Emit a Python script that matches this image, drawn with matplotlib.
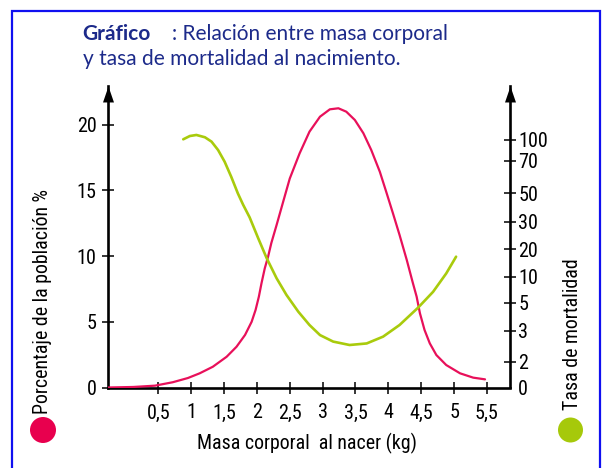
import numpy as np
import matplotlib
matplotlib.use("Agg")
import matplotlib.pyplot as plt
from matplotlib.patches import Rectangle, Ellipse
from matplotlib.scale import FuncScale

plt.rcParams['font.family'] = ['Noto Sans Condensed', 'Liberation Sans Narrow', 'Roboto Condensed', 'DejaVu Sans']
plt.rcParams['font.stretch'] = 'condensed'

# ---- data ----
x_ticks = [0.5, 1, 1.5, 2, 2.5, 3, 3.5, 4, 4.5, 5, 5.5]
x_tick_labels = ["0,5", "1", "1,5", "2", "2,5", "3", "3,5", "4", "4,5", "5", "5,5"]
pct_ticks = [0, 5, 10, 15, 20]
mort_ticks = [0, 2, 3, 5, 10, 20, 30, 50, 70, 100]
# position of each mortality tick on the (population %) axis scale
mort_tick_pos = [0, 1.96, 4.32, 6.45, 8.43, 10.52, 12.62, 14.78, 17.24, 18.84]

mass_pop = [-0.26, 0.12, 0.45, 0.72, 0.95, 1.13, 1.33, 1.54, 1.69, 1.82, 1.92, 1.98,
            2.03, 2.07, 2.12, 2.17, 2.22, 2.30, 2.40, 2.50, 2.65, 2.80, 2.96, 3.11,
            3.24, 3.36, 3.49, 3.62, 3.74, 3.87, 3.97, 4.07, 4.17, 4.28, 4.37, 4.43,
            4.48, 4.55, 4.63, 4.73, 4.88, 5.09, 5.29, 5.47]
pop_pct = [0.0, 0.04, 0.14, 0.40, 0.72, 1.08, 1.58, 2.34, 3.10, 4.0, 5.0, 5.9,
           6.91, 7.93, 9.07, 9.95, 11.0, 12.37, 14.14, 15.9, 17.82, 19.47, 20.61, 21.17,
           21.25, 20.99, 20.36, 19.35, 18.07, 16.42, 14.85, 13.25, 11.61, 9.7, 8.0, 6.91,
           5.65, 4.38, 3.36, 2.47, 1.71, 1.08, 0.75, 0.62]

mass_mort = [0.88, 0.98, 1.08, 1.21, 1.31, 1.41, 1.51, 1.61, 1.71, 1.79, 1.89, 2.02, 2.15,
             2.30, 2.45, 2.63, 2.80, 2.96, 3.16, 3.41, 3.67, 3.92, 4.17, 4.45, 4.68,
             4.88, 5.03]
mortality = [100.9, 105.6, 107.1, 103.8, 97.6, 85.6, 69.5, 60.2, 50.0, 42.0, 33.0, 24.0, 16.7,
             9.7, 6.5, 4.36, 3.41, 2.86, 2.65, 2.54, 2.59, 2.81, 3.41, 4.64, 7.1,
             11.2, 17.3]

PINK = "#e8105a"
GREEN = "#a9cb0c"
NAVY = "#1c2a8a"

W, H = 609, 468
fig = plt.figure(figsize=(W / 100, H / 100), dpi=100)

def fx(px):
    return px / W

def fy(py):
    return 1 - py / H

# frame
fig.patches.append(Rectangle((fx(11.7), fy(520)), fx(600) - fx(11.7), fy(11.5) - fy(520),
                             transform=fig.transFigure, fill=False, edgecolor="#1010f0",
                             linewidth=1.6, clip_on=False))

ax = fig.add_axes([fx(108.3), fy(387.5), fx(510) - fx(108.3), fy(86) - fy(387.5)])
ax.patch.set_alpha(0)
ylim_top = (387.5 - 86) / 13.14
ax.set_xlim(-0.26, 5.85)
ax.set_ylim(0, ylim_top)

for s in ["top", "right"]:
    ax.spines[s].set_visible(False)
for s in ["left", "bottom"]:
    ax.spines[s].set_linewidth(1.9)
    ax.spines[s].set_capstyle('projecting')

ax.plot(mass_pop, pop_pct, color=PINK, lw=1.6, solid_capstyle='round',
        solid_joinstyle='round', zorder=3)

TICK_FS = 14.5
ax.set_xticks(x_ticks)
ax.set_xticklabels(x_tick_labels)
ax.set_yticks(pct_ticks)
ax.set_yticklabels([str(v) for v in pct_ticks])
ax.tick_params(axis='both', direction='inout', length=9, width=1.1, labelsize=TICK_FS)
ax.tick_params(axis='x', pad=7)
ax.tick_params(axis='y', pad=4)
ax.yaxis.get_major_ticks()[0].tick1line.set_visible(False)

# secondary mortality axis with nonlinear scale
ext_vals = mort_ticks + [200]
ext_pos = mort_tick_pos + [mort_tick_pos[-1] + 100 * (mort_tick_pos[-1] - mort_tick_pos[-2]) / 30]

def fwd(v):
    return np.interp(v, ext_vals, ext_pos)

def inv(p):
    return np.interp(p, ext_pos, ext_vals)

ax2 = ax.twinx()
ax2.set_yscale(FuncScale(ax2, (fwd, inv)))
ax2.set_ylim(0, float(inv(ylim_top)))
for s in ["top", "left", "bottom"]:
    ax2.spines[s].set_visible(False)
ax2.spines["right"].set_linewidth(1.9)
ax2.plot(mass_mort, mortality, color=GREEN, lw=1.9, solid_capstyle='round',
         solid_joinstyle='round', zorder=3)
ax2.set_yticks(mort_ticks)
ax2.set_yticklabels([str(v) for v in mort_ticks])
ax2.yaxis.set_minor_locator(matplotlib.ticker.NullLocator())
ax2.tick_params(axis='y', direction='inout', length=9, width=1.1, labelsize=TICK_FS, pad=1.5)
ax2.yaxis.get_major_ticks()[0].tick2line.set_visible(False)

# arrow heads
arrow = [(0, 0), (-5.5, -16), (5.5, -16)]
for xa in (0, 1):
    ax.plot([xa], [1], marker=arrow, markersize=23, color='k', transform=ax.transAxes,
            clip_on=False, zorder=5, markeredgewidth=0)

# titles
TFONT = ['Lato', 'DejaVu Sans']
TFS = 15
fig.text(fx(82.7), fy(34), "Gráfico", color=NAVY, fontsize=TFS, fontweight='bold',
         family=TFONT, stretch='normal', va='center', ha='left')
fig.text(fx(172), fy(34), ": Relación entre masa corporal", color=NAVY, fontsize=TFS,
         family=TFONT, stretch='normal', va='center', ha='left')
fig.text(fx(82.7), fy(59), "y tasa de mortalidad al nacimiento.", color=NAVY, fontsize=TFS,
         family=TFONT, stretch='normal', va='center', ha='left')

# axis labels
LAB_FS = 14.3
fig.text(fx(307), fy(443), "Masa corporal  al nacer (kg)", fontsize=LAB_FS, ha='center', va='center')
fig.text(fx(43), fy(301), "Porcentaje de la población %", fontsize=LAB_FS, rotation=90, ha='center', va='center')
fig.text(fx(572), fy(334), "Tasa de mortalidad", fontsize=LAB_FS, rotation=90, ha='center', va='center')

# legend dots
fig.patches.append(Ellipse((fx(43), fy(430)), 26 / W, 26 / H, transform=fig.transFigure,
                           facecolor="#e8004e", edgecolor='none'))
fig.patches.append(Ellipse((fx(570.5), fy(430)), 25 / W, 25 / H, transform=fig.transFigure,
                           facecolor="#a6c90a", edgecolor='none'))

fig.savefig("out.png", dpi=100)
